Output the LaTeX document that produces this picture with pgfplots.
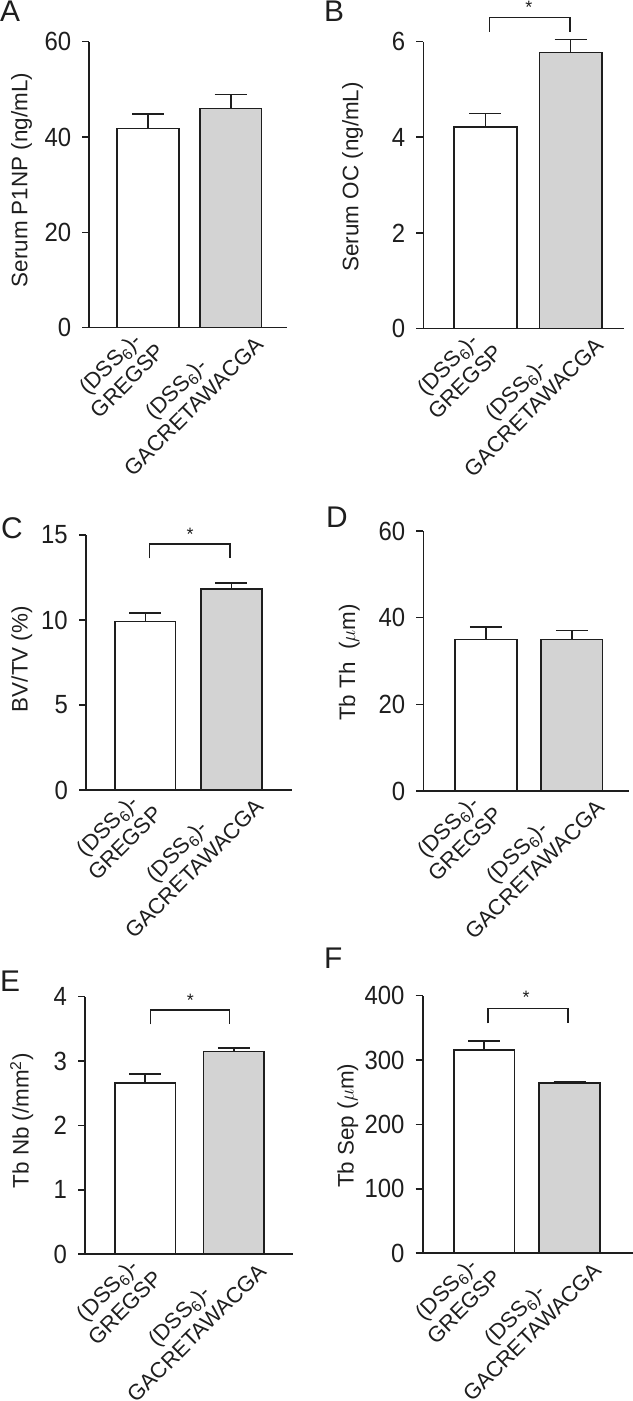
\documentclass[border=0pt]{standalone}
\usepackage{graphicx}
\usepackage{pgfplots}
\pgfplotsset{compat=1.18}
\usepackage{fontspec}
\setmainfont{Liberation Sans}
\definecolor{barfill}{RGB}{211,211,211}
\definecolor{ink}{RGB}{30,30,30}
\newcommand{\lab}{\fontsize{22.5}{26}\selectfont}
\newcommand{\xlab}{\fontsize{22}{25}\selectfont}
\newcommand{\tlab}{\fontsize{24}{28}\selectfont}
\newcommand{\pletfont}{\fontsize{30}{36}\selectfont}
\newcommand{\starf}{\fontsize{18}{20}\selectfont}

\pgfplotsset{
  panel/.style={
    scale only axis, clip=false,
    axis x line*=bottom, axis y line*=left,
    axis line style={line width=1.6bp, draw=ink},
    xtick={1},
    xticklabels={{(DSS\textsubscript{6})-\\GREGSP}},
    extra x ticks={2},
    extra x tick labels={{(DSS\textsubscript{6})-\\GACRETAWACGA}},
    extra x tick style={tick style={draw=none}, xticklabel style={xshift=16bp, yshift=-6bp}},
    xtick style={draw=none},
    ytick style={line width=1.6bp, draw=ink},
    tick align=outside, major tick length=7bp,
    ymin=0,
    yticklabel={\scalebox{1}[1.1]{\pgfmathprintnumber{\tick}}},
    yticklabel style={font=\tlab, text=ink, inner sep=0pt, xshift=-11bp},
    /pgf/number format/assume math mode=true,
    xticklabel style={font=\xlab, text=ink, rotate=45, anchor=north east, align=center, inner sep=0pt, xshift=0bp, yshift=15bp},
    ylabel style={font=\lab, text=ink, anchor=center},
    ybar, bar shift=0pt,
  },
  ebar/.style={
    draw=ink, line width=1.6bp,
    /pgfplots/error bars/y dir=plus,
    /pgfplots/error bars/y explicit,
    /pgfplots/error bars/error bar style={line width=1.6bp, draw=ink},
    /pgfplots/error bars/error mark options={rotate=90, mark size=16bp, line width=1.6bp, draw=ink},
  },
}
\tikzset{
  brk/.style={line width=1.6bp, draw=ink},
  stars/.style={font=\starf, text=ink, anchor=base, yshift=-10bp, inner sep=0pt},
}

\begin{document}
\begin{tikzpicture}
\useasboundingbox (0,0) rectangle (633bp,1401bp);

% Panel A
\begin{axis}[panel, at={(89.3bp,1073.3bp)}, anchor=south west, width=198bp, height=286bp,
  xmin=0.29, xmax=2.684, bar width=61.5bp, ymax=60, ytick={0,20,40,60},
  ylabel={Serum P1NP (ng/mL)},
  ylabel style={at={([xshift=-67.6bp]axis description cs:0,0.516)}}]
\addplot[fill=white, ebar] coordinates {(1,41.8) +- (0,3.0)};
\addplot[fill=barfill, ebar] coordinates {(2,46.0) +- (0,2.9)};
\end{axis}

% Panel B
\begin{axis}[panel, at={(423.3bp,1072.5bp)}, anchor=south west, width=201bp, height=286.8bp,
  xmin=0.27, xmax=2.63, bar width=62.5bp, ymax=6, ytick={0,2,4,6},
  ylabel={Serum OC (ng/mL)},
  ylabel style={at={([xshift=-70.6bp]axis description cs:0,0.529)}}]
\addplot[fill=white, ebar] coordinates {(1,4.21) +- (0,0.29)};
\addplot[fill=barfill, ebar] coordinates {(2,5.77) +- (0,0.28)};
\draw[brk] (axis cs:1.045,6.21) |- (axis cs:1.99,6.51) -- (axis cs:1.99,6.21);
\node[stars] at (axis cs:1.51,6.79) {*};
\end{axis}

% Panel C
\begin{axis}[panel, at={(86bp,611bp)}, anchor=south west, width=205.7bp, height=255bp,
  xmin=0.31, xmax=2.70, bar width=60.5bp, ymax=15, ytick={0,5,10,15},
  ylabel={BV/TV (\%)},
  ylabel style={at={([xshift=-64.3bp]axis description cs:0,0.513)}}]
\addplot[fill=white, ebar] coordinates {(1,9.9) +- (0,0.5)};
\addplot[fill=barfill, ebar] coordinates {(2,11.82) +- (0,0.34)};
\draw[brk] (axis cs:1.05,13.63) |- (axis cs:1.98,14.47) -- (axis cs:1.98,13.63);
\node[stars] at (axis cs:1.52,15.29) {*};
\end{axis}

% Panel D
\begin{axis}[panel, at={(423.3bp,610bp)}, anchor=south west, width=206bp, height=260bp,
  xmin=0.27, xmax=2.67, bar width=61.5bp, ymax=60, ytick={0,20,40,60},
  ylabel={Tb Th\ \ ($\mu$m)},
  ylabel style={at={([xshift=-74bp]axis description cs:0,0.494)}}]
\addplot[fill=white, ebar] coordinates {(1,35.0) +- (0,2.8)};
\addplot[fill=barfill, ebar] coordinates {(2,35.0) +- (0,2.0)};
\end{axis}

% Panel E
\begin{axis}[panel, at={(85bp,146.7bp)}, anchor=south west, width=208.3bp, height=257.6bp,
  xmin=0.32, xmax=2.67, bar width=60.7bp, ymax=4, ytick={0,1,2,3,4},
  ylabel={Tb Nb (/mm\textsuperscript{2})},
  ylabel style={at={([xshift=-63.3bp]axis description cs:0,0.518)}}]
\addplot[fill=white, ebar] coordinates {(1,2.66) +- (0,0.14)};
\addplot[fill=barfill, ebar] coordinates {(2,3.15) +- (0,0.05)};
\draw[brk] (axis cs:1.06,3.57) |- (axis cs:1.95,3.79) -- (axis cs:1.95,3.57);
\node[stars] at (axis cs:1.51,4.0) {*};
\end{axis}

% Panel F
\begin{axis}[panel, at={(422.7bp,147.7bp)}, anchor=south west, width=210bp, height=257.6bp,
  xmin=0.28, xmax=2.74, bar width=60.5bp, ymax=400, ytick={0,100,200,300,400},
  ylabel={Tb Sep ($\mu$m)},
  ylabel style={at={([xshift=-75bp]axis description cs:0,0.495)}}]
\addplot[fill=white, ebar] coordinates {(1,315.7) +- (0,14)};
\addplot[fill=barfill, ebar] coordinates {(2,264.9) +- (0,1.6)};
\draw[brk] (axis cs:1.047,357.1) |- (axis cs:1.98,380.4) -- (axis cs:1.98,357.1);
\node[stars] at (axis cs:1.49,403.7) {*};
\end{axis}

% Panel letters
\node[anchor=north west, inner sep=0pt, font=\pletfont, text=ink] at (0bp,1400bp) {A};
\node[anchor=north west, inner sep=0pt, font=\pletfont, text=ink] at (324bp,1400bp) {B};
\node[anchor=north west, inner sep=0pt, font=\pletfont, text=ink] at (1bp,884bp) {C};
\node[anchor=north west, inner sep=0pt, font=\pletfont, text=ink] at (326bp,894bp) {D};
\node[anchor=north west, inner sep=0pt, font=\pletfont, text=ink] at (0bp,430bp) {E};
\node[anchor=north west, inner sep=0pt, font=\pletfont, text=ink] at (324bp,453bp) {F};
\end{tikzpicture}
\end{document}
